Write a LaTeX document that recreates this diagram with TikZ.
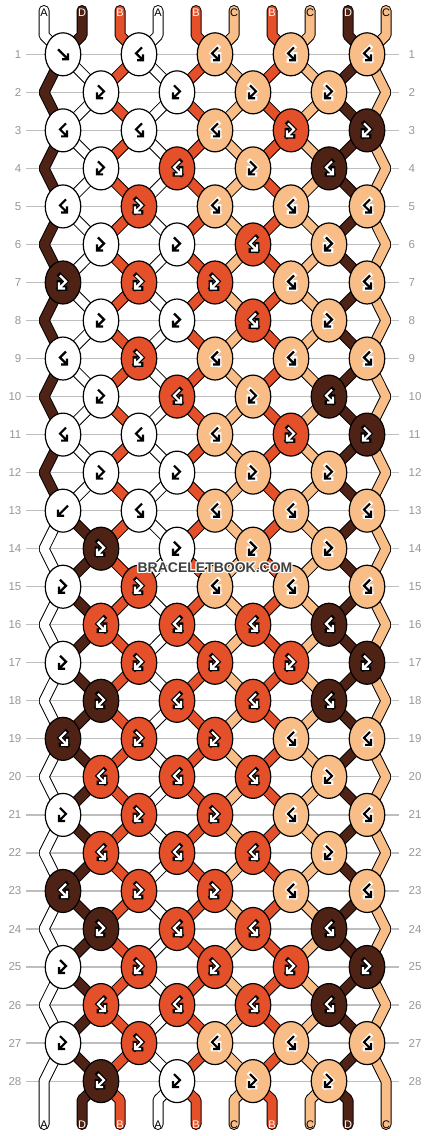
\documentclass[tikz,border=0pt]{standalone}
\usepackage{fontspec}
\setmainfont{Liberation Sans}
\usetikzlibrary{shapes.geometric}
\definecolor{cA}{HTML}{FFFFFF}
\definecolor{cB}{HTML}{E4502A}
\definecolor{cC}{HTML}{F9BE88}
\definecolor{cD}{HTML}{4F2216}
\definecolor{gridgray}{HTML}{BEBEBE}
\definecolor{numgray}{HTML}{989898}
\definecolor{wmgray}{HTML}{404040}
\pgfdeclarelayer{bg}
\pgfdeclarelayer{fg}
\pgfdeclarelayer{top}
\pgfsetlayers{bg,main,fg,top}
\def\haloA{white}\def\strokeA{black}
\def\haloC{white}\def\strokeC{black}
\def\haloB{black}\def\strokeB{white}
\def\haloD{black}\def\strokeD{white}
\def\labA{black}\def\labB{white}\def\labC{black}\def\labD{white}
\tikzset{
  knot/.style={ellipse, draw=black, line width=1.2pt, fill=c#1, minimum width=35.5pt, minimum height=43pt, inner sep=0pt},
  strand/.style={draw=black, line width=1pt, double=c#1, double distance=9pt, line cap=round, line join=bevel},
  gridline/.style={draw=gridgray, line width=1.2pt},
  rownum/.style={text=numgray, font=\fontsize{11.5}{12}\selectfont, inner sep=0pt},
  tablabel/.style={font=\fontsize{11}{12}\selectfont, inner sep=0pt},
  wm/.style={font=\bfseries\fontsize{14}{14}\selectfont, inner sep=0pt},
  glyphhalo/.style={line width=4.6pt, line join=miter, line cap=rect},
  glyphline/.style={line width=2.2pt, line join=miter, line cap=butt},
  glyph f/.pic={\draw[pic actions] (-5,-5) -- (5,5) (-1,5) -- (5,5) -- (5,-1);},
  glyph b/.pic={\draw[pic actions] (5,-5) -- (-5,5) (1,5) -- (-5,5) -- (-5,-1);},
  glyph L/.pic={\draw[pic actions] (-3,-7) -- (3,-1) -- (-4,6) (2,6) -- (-4,6) -- (-4,0);},
  glyph R/.pic={\draw[pic actions] (3,-7) -- (-3,-1) -- (4,6) (-2,6) -- (4,6) -- (4,0);},
}
\begin{document}
\begin{tikzpicture}[x=1pt,y=-1pt]
\useasboundingbox (0,0) rectangle (430,1136);
\begin{pgfonlayer}{bg}
\fill[white] (0,0) rectangle (430,1136);
\foreach \rr in {1,...,28}{
  \pgfmathsetmacro\yy{54.3+38.03*(\rr-1)}
  \draw[gridline] (26,\yy) -- (399,\yy);
  \node[rownum, anchor=east] (NL-\rr) at (21.5,\yy) {\rr};
  \node[rownum, anchor=west] (NR-\rr) at (408.5,\yy) {\rr};
}
\end{pgfonlayer}
% knots
\begin{pgfonlayer}{fg}
\foreach \rr/\lst in {%
 1/{A/f,A/R,C/R,C/R,C/R},%
 2/{A/L,A/L,C/L,C/L},%
 3/{A/R,A/R,C/R,B/L,D/L},%
 4/{A/L,B/R,C/L,D/R},%
 5/{A/R,B/L,C/R,C/R,C/R},%
 6/{A/L,A/L,B/R,C/L},%
 7/{D/L,B/L,B/L,C/R,C/R},%
 8/{A/L,A/L,B/R,C/L},%
 9/{A/R,B/L,C/R,C/R,C/R},%
 10/{A/L,B/R,C/L,D/R},%
 11/{A/R,A/R,C/R,B/L,D/L},%
 12/{A/L,A/L,C/L,C/L},%
 13/{A/b,A/R,C/R,C/R,C/R},%
 14/{D/L,A/L,C/L,C/L},%
 15/{A/L,B/L,C/R,C/R,C/R},%
 16/{B/R,B/R,B/R,D/R},%
 17/{A/L,B/L,B/L,B/L,D/L},%
 18/{D/L,B/R,B/R,D/R},%
 19/{D/R,B/L,B/L,C/R,C/R},%
 20/{B/R,B/R,B/R,C/L},%
 21/{A/L,B/L,B/L,C/R,C/R},%
 22/{B/R,B/R,B/R,C/L},%
 23/{D/R,B/L,B/L,C/R,C/R},%
 24/{D/L,B/R,B/R,D/R},%
 25/{A/L,B/L,B/L,B/L,D/L},%
 26/{B/R,B/R,B/R,D/R},%
 27/{A/L,B/L,C/R,C/R,C/R},%
 28/{D/L,A/L,C/L,C/L}}{%
  \pgfmathsetmacro\yy{54.3+38.03*(\rr-1)}
  \pgfmathsetmacro\xo{mod(\rr,2)==1 ? 63 : 101}
  \foreach \kc/\kt [count=\kn] in \lst {
    \pgfmathsetmacro\xx{\xo+76*(\kn-1)}
    \node[knot=\kc] (K-\rr-\kn) at (\xx,\yy) {};
    \edef\hc{\csname halo\kc\endcsname}
    \edef\sc{\csname stroke\kc\endcsname}
    \pic[glyphhalo, draw=\hc] at (K-\rr-\kn) {glyph \kt};
    \pic[glyphline, draw=\sc] at (K-\rr-\kn) {glyph \kt};
  }
}
\end{pgfonlayer}
% edge turning points
\foreach \rr in {2,4,...,28}{
  \pgfmathsetmacro\yy{54.3+38.03*(\rr-1)}
  \coordinate (E-\rr-L) at (44,\yy);
  \coordinate (E-\rr-R) at (386,\yy);
}
% position p at row r
\foreach \rr in {1,...,28}{
  \pgfmathtruncatemacro\odd{mod(\rr,2)}
  \foreach \pn in {1,...,10}{
    \pgfmathtruncatemacro\kn{\odd==1 ? int((\pn+1)/2) : int(\pn/2)}
    \ifnum\odd=1 \coordinate (P-\rr-\pn) at (K-\rr-\kn.center);
    \else\ifnum\pn=1 \coordinate (P-\rr-\pn) at (E-\rr-L);
    \else\ifnum\pn=10 \coordinate (P-\rr-\pn) at (E-\rr-R);
    \else \coordinate (P-\rr-\pn) at (K-\rr-\kn.center);
    \fi\fi\fi
  }
}
% route of each string
\foreach \sn in {1,...,10}{
  \foreach \rr in {1,...,28}{
    \pgfmathtruncatemacro\pn{\sn>2 ? \sn : ((\rr==1 || \rr>13) ? \sn : 3-\sn)}
    \coordinate (S-\sn-\rr) at (P-\rr-\pn);
  }
  \pgfmathsetmacro\xx{44+38*(\sn-1)}
  \coordinate (T-\sn) at (\xx,10.5);
  \coordinate (TB-\sn) at (\xx,35.3);
  \coordinate (BB-\sn) at (\xx,1100);
  \coordinate (B-\sn) at (\xx,1124.5);
}
\foreach \sn/\lc in {1/A,2/D,3/B,4/A,5/B,6/C,7/B,8/C,9/D,10/C}{
  \draw[strand=\lc] (T-\sn) -- (TB-\sn) \foreach \rr in {1,...,28}{ -- (S-\sn-\rr)} -- (BB-\sn) -- (B-\sn);
}
\begin{pgfonlayer}{top}
\foreach \sn/\lc in {1/A,2/D,3/B,4/A,5/B,6/C,7/B,8/C,9/D,10/C}{
  \pgfmathsetmacro\xx{44+38*(\sn-1)}
  \edef\tc{\csname lab\lc\endcsname}
  \node[tablabel, text=\tc] (LT-\sn) at (\xx,13) {\lc};
  \node[tablabel, text=\tc] (LB-\sn) at (\xx,1125) {\lc};
}
\foreach \dx/\dy [count=\i] in {-1/-1,0/-1,1/-1,-1/0,1/0,-1/1,0/1,1/1}{
  \node[wm, text=white] (WMH-\i) at (215+\dx,567.5+\dy) {BRACELETBOOK.COM};
}
\node[wm, text=wmgray] (WM) at (215,567.5) {BRACELETBOOK.COM};
\end{pgfonlayer}
\end{tikzpicture}
\end{document}
